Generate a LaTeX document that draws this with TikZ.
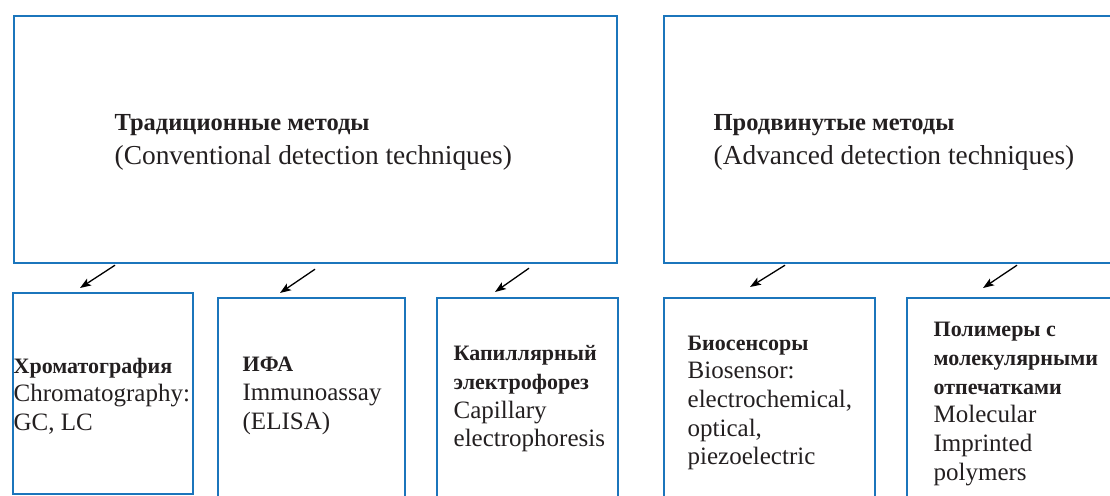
\documentclass[tikz,border=0pt]{standalone}
\usepackage{fontspec}
\setmainfont{Liberation Serif}
\usetikzlibrary{arrows.meta,positioning}
\definecolor{frameblue}{RGB}{27,117,188}
\definecolor{inkgray}{RGB}{35,31,32}

\begin{document}
\begin{tikzpicture}[x=1pt,y=-1pt,->,>={Stealth[length=11pt,width=8pt,inset=2.5pt]},line width=1.3pt,text=inkgray]
	\tikzstyle{frame}=[draw=frameblue,line width=2.2pt,anchor=north west,inner sep=0pt]
	\tikzstyle{bigtxt}=[anchor=west,align=left,inner sep=0pt,font=\fontsize{27.4}{34}\selectfont]
	\tikzstyle{txt}=[anchor=west,align=left,inner sep=0pt,font=\fontsize{25}{28.7}\selectfont]
	\newcommand{\hd}[1]{{\fontsize{22}{28.7}\selectfont\bfseries #1}}
	\newcommand{\bighd}[1]{{\fontsize{24.5}{34}\selectfont\bfseries #1}}
	\useasboundingbox (0,0) rectangle (1110,495);

	% upper boxes
	\node[frame,minimum width=603pt,minimum height=247pt] (conv) at (13,15) {};
	\node[frame,minimum width=452pt,minimum height=247pt] (adv)  at (663,15) {};
	\node[bigtxt] (convtxt) at (114,142) {\bighd{Традиционные методы}\\(Conventional detection techniques)};
	\node[bigtxt] (advtxt)  at (713,142) {\bighd{Продвинутые методы}\\(Advanced detection techniques)};

	% lower boxes
	\node[frame,minimum width=180pt,minimum height=201pt] (chrom) at (12,292) {};
	\node[frame,minimum width=187pt,minimum height=202pt] (ifa)   at (217,297) {};
	\node[frame,minimum width=181pt,minimum height=202pt] (cap)   at (436,297) {};
	\node[frame,minimum width=211pt,minimum height=202pt] (bio)   at (663,297) {};
	\node[frame,minimum width=210pt,minimum height=202pt] (mip)   at (906,297) {};

	\node[txt] (chromtxt) at (13,396)  {\hd{Хроматография}\\Chromatography:\\GC, LC};
	\node[txt] (ifatxt)   at (242,396) {\hd{ИФА}\\Immunoassay\\(ELISA)};
	\node[txt] (captxt)   at (453,399) {\hd{Капиллярный}\\\hd{электрофорез}\\Capillary\\electrophoresis};
	\node[txt] (biotxt)   at (687,403) {\hd{Биосенсоры}\\Biosensor:\\electrochemical,\\optical,\\piezoelectric};
	\node[txt] (miptxt)   at (933,404) {\hd{Полимеры с}\\\hd{молекулярными}\\\hd{отпечатками}\\Molecular\\Imprinted\\polymers};

	\draw ([shift={(102pt,-1pt)}]conv.south west) -- ([shift={(68pt,4pt)}]chrom.north west);
	\draw ([shift={(302pt,-5pt)}]conv.south west) -- ([shift={(63pt,4pt)}]ifa.north west);
	\draw ([shift={(516pt,-4pt)}]conv.south west) -- ([shift={(59pt,5pt)}]cap.north west);
	\draw ([shift={(122pt,-1pt)}]adv.south west) -- ([shift={(87pt,10pt)}]bio.north west);
	\draw ([shift={(354pt,-1pt)}]adv.south west) -- ([shift={(77pt,9pt)}]mip.north west);
\end{tikzpicture}
\end{document}
